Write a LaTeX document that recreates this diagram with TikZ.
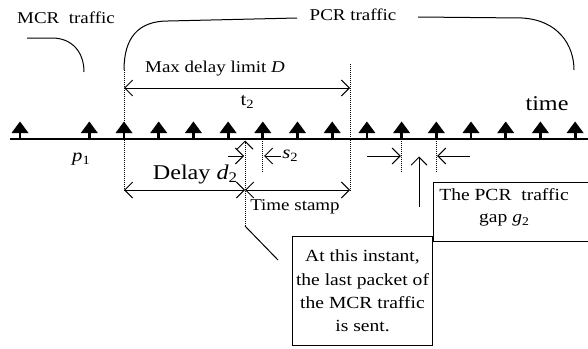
\documentclass[tikz,border=0pt]{standalone}
\usepackage{fontspec}
\setmainfont[FakeStretch=1.15]{Liberation Serif}
\usepackage{graphicx}
\usetikzlibrary{arrows.meta}
\newcommand\lsub[1]{\raisebox{-0.4ex}{\scalebox{0.7}{#1}}}
\begin{document}
\begin{tikzpicture}[x=1pt,y=-1pt,line width=1pt,
  >={Straight Barb[length=8pt,width=16pt]},
  lbl/.style={font=\fontsize{16.5}{19}\selectfont,inner sep=0pt,anchor=base},
  big/.style={font=\fontsize{21}{24}\selectfont,inner sep=0pt,anchor=base},
  mid/.style={font=\fontsize{18}{21}\selectfont,inner sep=0pt,anchor=base},
  dots/.style={dash pattern=on 1pt off 1pt},
  boxed/.style={draw,line width=1pt,inner sep=0pt}]
\path[use as bounding box] (0,0) rectangle (588,348);
\clip (0,0) rectangle (588,348);
% time axis
\coordinate (ax0) at (10,139);
\coordinate (ax1) at (588,139);
\draw[line width=2.4pt] (ax0) -- (ax1);
% packets
\foreach \x in {20,89.3,124,158.7,193.4,228.1,262.8,297.5,332.2,366.9,401.6,436.3,471,505.7,540.4,575.1} {
  \fill (\x-8.5,133) -- (\x,121.5) -- (\x+8.5,133) -- cycle;
  \fill (\x-1.4,133) rectangle (\x+1.4,139);
}
% boundaries of max delay
\coordinate (dl0) at (124,70);
\coordinate (dl1) at (124,192);
\coordinate (dr0) at (350,64);
\coordinate (dr1) at (350,192);
\draw[dots] (dl0) -- (dl1);
\draw[dots] (dr0) -- (dr1);
\coordinate (DL) at (124,88);
\coordinate (DR) at (350,88);
\draw[<->] (DL) -- (DR);
% delay and time stamp
\coordinate (dA) at (124,190);
\coordinate (dB) at (245,190);
\coordinate (dC) at (350,190);
\draw[<->] (dA) -- (dB);
\draw[<->] (dB) -- (dC);
% instant pointer
\coordinate (i0) at (245,140.5);
\coordinate (i1) at (245,226);
\coordinate (i2) at (278,260);
\draw[dots,->] (i1) -- (i0);
\draw (i2) -- (i1);
% s2
\coordinate (sa) at (228,156);
\coordinate (sb) at (244,156);
\coordinate (sc) at (281,156);
\coordinate (sd) at (264,156);
\coordinate (sv0) at (262.8,139);
\coordinate (sv1) at (262.8,172);
\draw[dots] (sv0) -- (sv1);
\draw[->] (sa) -- (sb);
\draw[->] (sc) -- (sd);
% g2
\coordinate (ga0) at (401.6,139);
\coordinate (ga1) at (401.6,172);
\coordinate (gb0) at (436.3,139);
\coordinate (gb1) at (436.3,172);
\draw[dots] (ga0) -- (ga1);
\draw[dots] (gb0) -- (gb1);
\coordinate (gl) at (367,156);
\coordinate (gl1) at (400.8,156);
\coordinate (gr) at (470,156);
\coordinate (gr1) at (437.1,156);
\draw[->] (gl) -- (gl1);
\draw[->] (gr) -- (gr1);
\coordinate (gu0) at (419,207);
\coordinate (gu1) at (419,156.5);
\draw[->] (gu0) -- (gu1);
% braces
\coordinate (m0) at (27,38);
\coordinate (m1) at (52,38);
\coordinate (m2) at (84,72);
\draw (m0) -- (m1) .. controls (72,38) and (84,52) .. (m2);
\coordinate (p0) at (124,70);
\coordinate (p1) at (168,21);
\coordinate (p2) at (297,18);
\draw (p0) .. controls (124,38) and (138,21) .. (p1) -- (p2);
\coordinate (q0) at (418,17);
\coordinate (q1) at (522,18);
\coordinate (q2) at (574,70);
\draw (q0) -- (q1) .. controls (558,20) and (574,45) .. (q2);
% boxes
\node[boxed,anchor=north west,minimum width=180pt,minimum height=59pt] (gapbox) at (433,182) {};
\node[font=\fontsize{17}{22}\selectfont,align=center,inner sep=0pt] (gaptext) at (504,207) {The PCR\ \ traffic\\gap \textit{g}\lsub{2}};
\node[boxed,anchor=north west,minimum width=140pt,minimum height=109pt,align=center,font=\fontsize{17}{23.3}\selectfont] (mcrbox) at (292,236) {At this instant,\\the last packet of\\the MCR traffic\\is sent.};
% labels
\node[lbl] (mcr) at (66,23) {MCR\ \ traffic};
\node[lbl] (pcr) at (353,20) {PCR traffic};
\node[lbl] (maxd) at (215,72) {Max delay limit \textit{D}};
\node[mid] (t2) at (247,105) {t\lsub{2}};
\node[big] (time) at (547,110) {time};
\node[big] (delay) at (195,179) {Delay \textit{d}\lsub{2}};
\node[mid] (p1l) at (81,161) {\textit{p}\lsub{1}};
\node[mid] (s2) at (290,158) {\textit{s}\lsub{2}};
\node[lbl] (ts) at (295,210) {Time stamp};
\end{tikzpicture}
\end{document}
